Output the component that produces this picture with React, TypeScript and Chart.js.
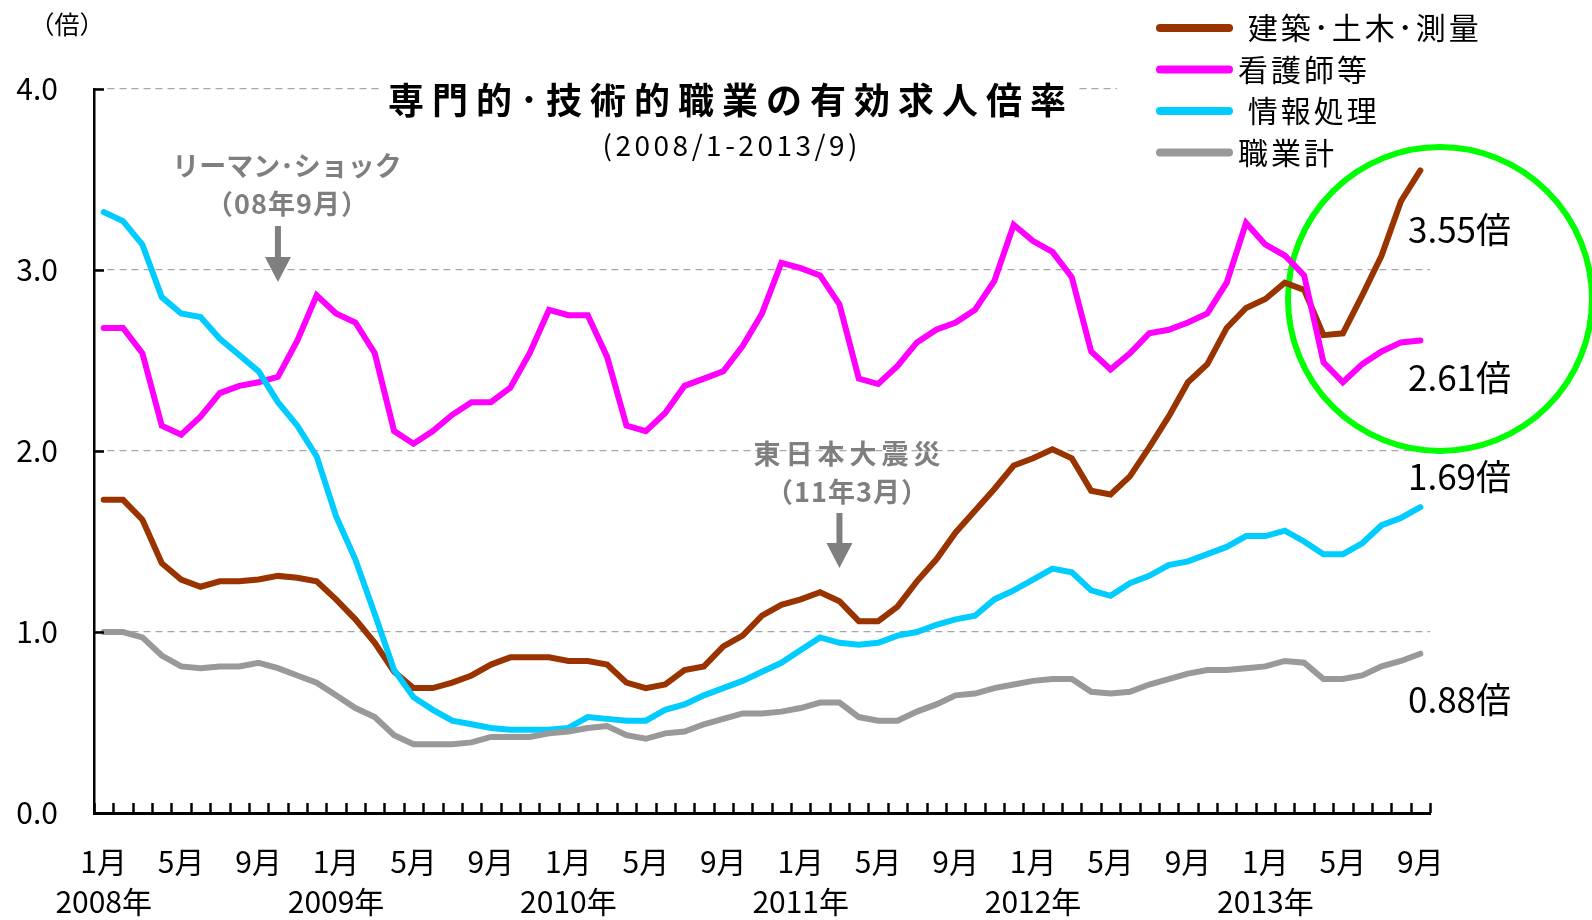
import React, { useEffect, useRef } from "react";
import { Chart, registerables } from "chart.js";

Chart.register(...registerables);

const FONT = "'Noto Sans CJK JP', 'Noto Sans', sans-serif";

// Categories: 2008/1 - 2013/9
const YEARS = [2008, 2009, 2010, 2011, 2012, 2013];
const LAST_MONTH_2013 = 9;
const CATEGORIES: string[] = [];
for (const y of YEARS) {
  for (let m = 1; m <= 12; m++) {
    if (y === 2013 && m > LAST_MONTH_2013) break;
    CATEGORIES.push(`${y}/${m}`);
  }
}

const CONSTRUCTION = [
  1.73, 1.73, 1.62, 1.38, 1.29, 1.25, 1.28, 1.28, 1.29, 1.31, 1.30, 1.28,
  1.18, 1.07, 0.94, 0.78, 0.69, 0.69, 0.72, 0.76, 0.82, 0.86, 0.86, 0.86,
  0.84, 0.84, 0.82, 0.72, 0.69, 0.71, 0.79, 0.81, 0.92, 0.98, 1.09, 1.15,
  1.18, 1.22, 1.17, 1.06, 1.06, 1.14, 1.28, 1.40, 1.55, 1.67, 1.79, 1.92,
  1.96, 2.01, 1.96, 1.78, 1.76, 1.86, 2.02, 2.19, 2.38, 2.48, 2.68, 2.79,
  2.84, 2.93, 2.89, 2.64, 2.65, 2.86, 3.08, 3.38, 3.55,
];
const NURSE = [
  2.68, 2.68, 2.54, 2.14, 2.09, 2.19, 2.32, 2.36, 2.38, 2.41, 2.61, 2.86,
  2.76, 2.71, 2.54, 2.11, 2.04, 2.11, 2.20, 2.27, 2.27, 2.35, 2.54, 2.78,
  2.75, 2.75, 2.52, 2.14, 2.11, 2.21, 2.36, 2.40, 2.44, 2.58, 2.76, 3.04,
  3.01, 2.97, 2.81, 2.40, 2.37, 2.47, 2.60, 2.67, 2.71, 2.78, 2.94, 3.25,
  3.16, 3.10, 2.96, 2.55, 2.45, 2.54, 2.65, 2.67, 2.71, 2.76, 2.93, 3.26,
  3.14, 3.08, 2.97, 2.49, 2.38, 2.48, 2.55, 2.60, 2.61,
];
const IT = [
  3.32, 3.27, 3.14, 2.85, 2.76, 2.74, 2.62, 2.53, 2.44, 2.27, 2.14, 1.97,
  1.64, 1.40, 1.10, 0.79, 0.64, 0.57, 0.51, 0.49, 0.47, 0.46, 0.46, 0.46,
  0.47, 0.53, 0.52, 0.51, 0.51, 0.57, 0.60, 0.65, 0.69, 0.73, 0.78, 0.83,
  0.90, 0.97, 0.94, 0.93, 0.94, 0.98, 1.00, 1.04, 1.07, 1.09, 1.18, 1.23,
  1.29, 1.35, 1.33, 1.23, 1.20, 1.27, 1.31, 1.37, 1.39, 1.43, 1.47, 1.53,
  1.53, 1.56, 1.50, 1.43, 1.43, 1.49, 1.59, 1.63, 1.69,
];
const ALL_JOBS = [
  1.00, 1.00, 0.97, 0.87, 0.81, 0.80, 0.81, 0.81, 0.83, 0.80, 0.76, 0.72,
  0.65, 0.58, 0.53, 0.43, 0.38, 0.38, 0.38, 0.39, 0.42, 0.42, 0.42, 0.44,
  0.45, 0.47, 0.48, 0.43, 0.41, 0.44, 0.45, 0.49, 0.52, 0.55, 0.55, 0.56,
  0.58, 0.61, 0.61, 0.53, 0.51, 0.51, 0.56, 0.60, 0.65, 0.66, 0.69, 0.71,
  0.73, 0.74, 0.74, 0.67, 0.66, 0.67, 0.71, 0.74, 0.77, 0.79, 0.79, 0.80,
  0.81, 0.84, 0.83, 0.74, 0.74, 0.76, 0.81, 0.84, 0.88,
];

const SERIES = [CONSTRUCTION, NURSE, IT, ALL_JOBS];
const SERIES_NAMES = [" 建築･土木･測量", "看護師等", " 情報処理", "職業計"];
const SERIES_COLORS = ["#993300", "#FF00FF", "#00CCFF", "#999999"];
const LATEST_LABELS = ["3.55倍", "2.61倍", "1.69倍", "0.88倍"];
const Y_TICKS = [0, 1, 2, 3, 4];
const LABELED_MONTHS = [1, 5, 9];
const TITLE = "専門的･技術的職業の有効求人倍率";
const SUBTITLE = "(2008/1-2013/9)";
const Y_UNIT = "（倍）";
const EVENTS = [
  { category: "2008/10", name: "リーマン･ショック", when: "（08年9月）" },
  { category: "2011/3", name: "東日本大震災", when: "（11年3月）" },
];

function drawText(
  ctx: CanvasRenderingContext2D,
  str: string,
  x: number,
  y: number,
  size: number,
  opts: { bold?: boolean; color?: string; align?: CanvasTextAlign; spacing?: number } = {}
) {
  ctx.save();
  ctx.font = `${opts.bold ? "bold " : ""}${size}px ${FONT}`;
  ctx.fillStyle = opts.color || "#000";
  ctx.textAlign = opts.align || "left";
  ctx.textBaseline = "middle";
  (ctx as any).letterSpacing = `${opts.spacing || 0}px`;
  const dx = opts.align === "center" && opts.spacing ? opts.spacing / 2 : 0;
  ctx.fillText(str, x + dx, y);
  (ctx as any).letterSpacing = "0px";
  ctx.restore();
}

function drawArrow(ctx: CanvasRenderingContext2D, x: number, yTop: number, yHead: number, yTip: number) {
  ctx.save();
  ctx.fillStyle = "#7f7f7f";
  ctx.fillRect(x - 3, yTop, 6, yHead - yTop + 1);
  ctx.beginPath();
  ctx.moveTo(x - 13, yHead);
  ctx.lineTo(x + 13, yHead);
  ctx.lineTo(x, yTip);
  ctx.closePath();
  ctx.fill();
  ctx.restore();
}

const decorPlugin = {
  id: "decor",
  beforeDatasetsDraw(chart: any) {
    const ctx: CanvasRenderingContext2D = chart.ctx;
    ctx.save();
    ctx.fillStyle = "#fff";
    ctx.fillRect(383, 78, 695, 44); // title backing
    ctx.fillRect(1117, 0, 475, 172); // legend backing
    ctx.fillRect(1403, 458, 120, 40); // 1.69 label backing
    // green highlight circle
    ctx.beginPath();
    ctx.arc(1440, 299, 152, 0, Math.PI * 2);
    ctx.lineWidth = 6;
    ctx.strokeStyle = "#00FF00";
    ctx.stroke();
    ctx.restore();

    drawText(ctx, TITLE, 727, 100, 36, { bold: true, align: "center", spacing: 8 });
    drawText(ctx, SUBTITLE, 730, 145, 28, { align: "center", spacing: 3.5 });

    // legend
    SERIES_NAMES.forEach((name, i) => {
      const y = 28 + i * 41.5;
      ctx.save();
      ctx.strokeStyle = SERIES_COLORS[i];
      ctx.lineWidth = 8;
      ctx.lineCap = "round";
      ctx.beginPath();
      ctx.moveTo(1160, y);
      ctx.lineTo(1229, y);
      ctx.stroke();
      ctx.restore();
      drawText(ctx, name, 1238, y, 30, { spacing: 3 });
    });
  },
  afterDraw(chart: any) {
    const ctx: CanvasRenderingContext2D = chart.ctx;
    const xs = chart.scales.x;
    const ys = chart.scales.y;
    const area = chart.chartArea;

    // inward tick marks on x axis (category boundaries)
    const step = xs.getPixelForValue(1) - xs.getPixelForValue(0);
    ctx.save();
    ctx.strokeStyle = "#000";
    ctx.lineWidth = 2;
    ctx.beginPath();
    for (let i = 0; i <= CATEGORIES.length; i++) {
      const x = Math.round(xs.getPixelForValue(i) - step / 2) + 0.5;
      ctx.moveTo(x, area.bottom);
      ctx.lineTo(x, area.bottom - 10);
    }
    // inward tick marks on y axis
    for (const v of Y_TICKS) {
      const y = Math.round(ys.getPixelForValue(v)) + 0.5;
      ctx.moveTo(area.left, y);
      ctx.lineTo(area.left + 10, y);
    }
    ctx.lineWidth = 2.5;
    ctx.stroke();
    ctx.restore();

    // unit label
    drawText(ctx, Y_UNIT, 67, 24, 25, { align: "center" });

    // event annotations
    const ev0 = EVENTS[0];
    const x0 = xs.getPixelForValue(CATEGORIES.indexOf(ev0.category));
    drawText(ctx, ev0.name, 287, 166, 27, { bold: true, color: "#7f7f7f", align: "center" });
    drawText(ctx, ev0.when, 287, 204, 27, { bold: true, color: "#7f7f7f", align: "center", spacing: 1 });
    drawArrow(ctx, x0, 226, 257, 282);

    const ev1 = EVENTS[1];
    const x1 = xs.getPixelForValue(CATEGORIES.indexOf(ev1.category));
    drawText(ctx, ev1.name, 847, 454, 27, { bold: true, color: "#7f7f7f", align: "center", spacing: 5 });
    drawText(ctx, ev1.when, 847, 492, 27, { bold: true, color: "#7f7f7f", align: "center", spacing: 1 });
    drawArrow(ctx, x1, 513, 543, 568);

    // latest value labels
    const labelY = [230, 378, 477, 700];
    LATEST_LABELS.forEach((t, i) => {
      drawText(ctx, t, 1408, labelY[i], 35);
    });
  },
};

export default function App() {
  const canvasRef = useRef<HTMLCanvasElement | null>(null);

  useEffect(() => {
    document.body.style.margin = "0";
    const canvas = canvasRef.current;
    if (!canvas) return;
    const chart = new Chart(canvas, {
      type: "line",
      data: {
        labels: CATEGORIES,
        datasets: SERIES.map((data, i) => ({
          label: SERIES_NAMES[i],
          data,
          borderColor: SERIES_COLORS[i],
          backgroundColor: SERIES_COLORS[i],
          borderWidth: 6,
          pointRadius: 0,
          tension: 0,
          borderCapStyle: "round" as const,
          borderJoinStyle: "miter" as const,
          order: SERIES.length - 1 - i,
        })),
      },
      options: {
        animation: false,
        responsive: false,
        devicePixelRatio: 1,
        layout: { padding: { top: 89, right: 162, left: 0, bottom: 0 } },
        plugins: {
          legend: { display: false },
          tooltip: { enabled: false },
          title: { display: false },
        },
        scales: {
          x: {
            type: "category",
            offset: true,
            grid: { display: false, drawTicks: false },
            border: { display: true, color: "#000", width: 3 },
            ticks: {
              autoSkip: false,
              maxRotation: 0,
              minRotation: 0,
              padding: 29,
              color: "#000",
              font: { family: FONT, size: 30, lineHeight: 40 / 30 },
              callback: (_v: any, idx: number) => {
                const [y, m] = CATEGORIES[idx].split("/").map(Number);
                if (!LABELED_MONTHS.includes(m)) return "";
                if (m === 1) return [`${m}月`, `${y}年`];
                return `${m}月`;
              },
            },
            afterFit: (scale: any) => {
              scale.height = 107;
            },
          },
          y: {
            min: 0,
            max: 4,
            grid: {
              color: "#a6a6a6",
              lineWidth: 1.3,
              drawTicks: false,
            },
            border: { display: true, color: "#000", width: 2.5, dash: [7, 5] },
            ticks: {
              stepSize: 1,
              padding: 36,
              color: "#000",
              font: { family: FONT, size: 30 },
              callback: (v: any) => Number(v).toFixed(1),
            },
            afterFit: (scale: any) => {
              scale.width = 94;
            },
          },
        },
      },
      plugins: [decorPlugin],
    });
    return () => chart.destroy();
  }, []);

  return (
    <div style={{ position: "absolute", left: 0, top: 0, width: 1592, height: 920, background: "#fff" }}>
      <canvas ref={canvasRef} width={1592} height={920} style={{ display: "block" }} />
    </div>
  );
}
